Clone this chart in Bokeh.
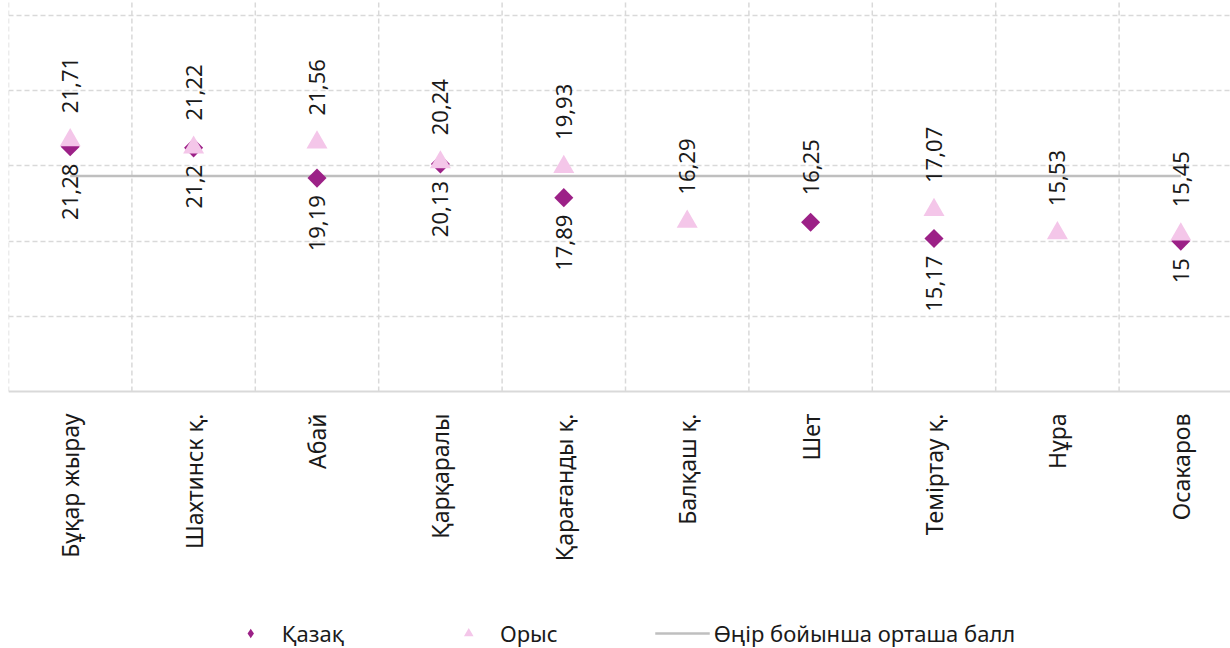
from math import pi
from bokeh.plotting import figure
from bokeh.models import (Range1d, FixedTicker, ColumnDataSource, Legend, LegendItem, Span)
from bokeh.core.properties import value
from bokeh.embed import file_html
from bokeh.resources import INLINE

# ---- data ----
districts = ["Бұқар жырау", "Шахтинск қ.", "Абай", "Қарқаралы", "Қарағанды қ.",
             "Балқаш қ.", "Шет", "Теміртау қ.", "Нұра", "Осакаров"]
kazakh = [21.28, 21.2, 19.19, 20.13, 17.89, None, 16.25, 15.17, None, 15.0]
russian = [21.71, 21.22, 21.56, 20.24, 19.93, 16.29, None, 17.07, 15.53, 15.45]
region_avg = 19.33
series_names = ["Қазақ", "Орыс", "Өңір бойынша орташа балл"]
grid_values = [10, 15, 20, 25, 30]
axis_base = 5

KAZ_COLOR = "#9C2187"
RUS_COLOR = "#F4C6E9"
AVG_COLOR = "#BFBFBF"
GRID_COLOR = "#D9D9D9"
TEXT_COLOR = "#1a1a1a"
FONT = "Noto Sans"
FS = "22px"
AX_FS = "23px"

PX_PER_UNIT = 15.04


def fmt(v):
    return f"{v:g}".replace(".", ",")


n = len(districts)
xs = list(range(n))
y_top = grid_values[-1] + 15 / PX_PER_UNIT
y_bottom = axis_base - 257 / PX_PER_UNIT

kaz_src = ColumnDataSource(dict(x=[i for i in xs if kazakh[i] is not None],
                                y=[v for v in kazakh if v is not None]))
rus_src = ColumnDataSource(dict(x=[i for i in xs if russian[i] is not None],
                                y=[v for v in russian if v is not None]))

below = dict(x=[], y=[], t=[])
above = dict(x=[], y=[], t=[])
for i in xs:
    if russian[i] is not None:
        above["x"].append(i); above["y"].append(russian[i]); above["t"].append(fmt(russian[i]))
        if kazakh[i] is not None:
            below["x"].append(i); below["y"].append(kazakh[i]); below["t"].append(fmt(kazakh[i]))
    elif kazakh[i] is not None:
        above["x"].append(i); above["y"].append(kazakh[i]); above["t"].append(fmt(kazakh[i]))

p = figure(width=1230, height=648,
           x_range=Range1d(-0.5, -0.5 + 1222 / 123.4),
           y_range=Range1d(y_bottom, y_top),
           output_backend="svg", toolbar_location=None,
           min_border_left=8, min_border_right=0, min_border_top=0,
           min_border_bottom=0)
p.outline_line_color = None
p.background_fill_color = "white"
p.border_fill_color = "white"
p.xaxis.visible = False
p.yaxis.visible = False

# horizontal dashed grid
p.xgrid.grid_line_color = None
p.ygrid.ticker = FixedTicker(ticks=grid_values)
p.ygrid.grid_line_color = GRID_COLOR
p.ygrid.grid_line_dash = "5 3"
p.ygrid.grid_line_width = 1.5

# vertical dashed category separators (only inside the chart area)
bounds = [i - 0.5 for i in range(n)]
p.segment(x0=bounds, y0=[axis_base] * n, x1=bounds, y1=[y_top] * n,
          line_color=GRID_COLOR, line_dash="5 3", line_width=1.5)

# category axis line
p.add_layout(Span(location=axis_base, dimension="width", line_color=GRID_COLOR, line_width=2))

# category labels (rotated, under the axis line)
p.text(x=xs, y=[axis_base] * n, text=districts, angle=pi / 2,
       text_align="right", text_baseline="middle", y_offset=22,
       text_font=value(FONT), text_font_size=AX_FS, text_color=TEXT_COLOR)

# average line
avg_r = p.line(x=[xs[0], xs[-1]], y=[region_avg, region_avg], line_color=AVG_COLOR, line_width=2.5)

# Kazakh: diamond (legend glyph, hidden under the rotated square) + rotated square
kaz_leg = p.scatter("x", "y", source=kaz_src, marker="diamond", size=12,
                    fill_color=KAZ_COLOR, line_color=None)
p.scatter("x", "y", source=kaz_src, marker="square", size=13.5, angle=pi / 4,
          fill_color=KAZ_COLOR, line_color=None)
rus_r = p.scatter("x", "y", source=rus_src, marker="triangle", size=21,
                  fill_color=RUS_COLOR, line_color=None)

# value labels
p.text("x", "y", "t", source=ColumnDataSource(below), angle=pi / 2,
       text_align="right", text_baseline="middle", y_offset=17,
       text_font=value(FONT), text_font_size=FS, text_color=TEXT_COLOR)
p.text("x", "y", "t", source=ColumnDataSource(above), angle=pi / 2,
       text_align="left", text_baseline="middle", y_offset=-27,
       text_font=value(FONT), text_font_size=FS, text_color=TEXT_COLOR)

legend = Legend(items=[LegendItem(label=series_names[0], renderers=[kaz_leg]),
                       LegendItem(label=series_names[1], renderers=[rus_r]),
                       LegendItem(label=series_names[2], renderers=[avg_r])],
                orientation="horizontal", location="bottom",
                glyph_width=55, glyph_height=24, label_standoff=4, spacing=97,
                padding=0, margin=0, border_line_color=None,
                background_fill_alpha=0,
                label_text_font=FONT, label_text_font_size=FS,
                label_text_color=TEXT_COLOR, label_height=20)
p.add_layout(legend)

open("out.html", "w").write(file_html(p, INLINE))
